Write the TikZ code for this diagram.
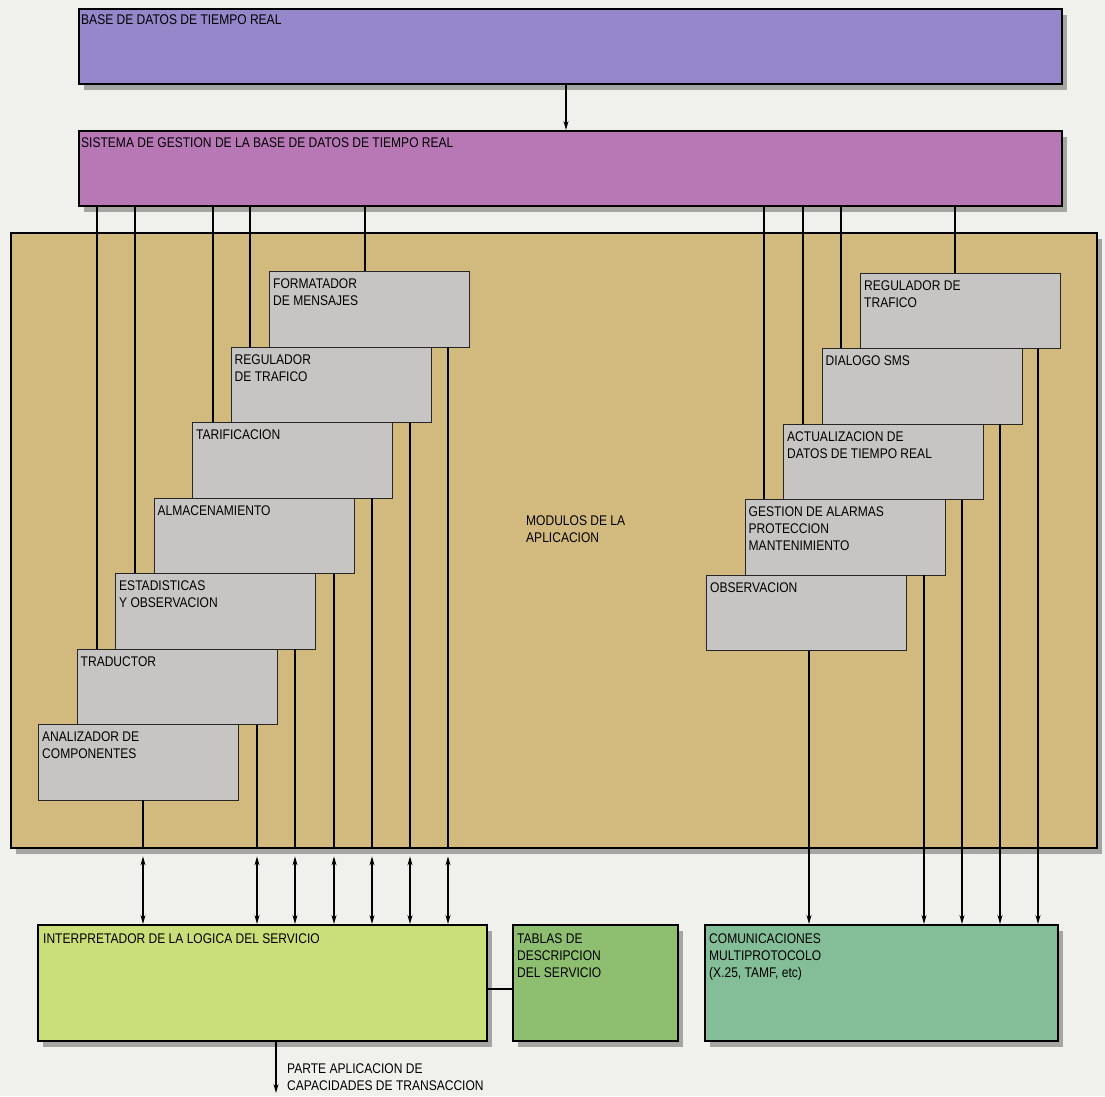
\documentclass[tikz,border=0pt]{standalone}
\usepackage{fontspec}
\setmainfont{Liberation Sans}[FakeStretch=0.86]
\usetikzlibrary{arrows.meta,shadows}

\definecolor{paper}{RGB}{240,240,237}
\definecolor{dbfill}{RGB}{150,134,202}
\definecolor{sgfill}{RGB}{184,120,182}
\definecolor{modfill}{RGB}{210,186,126}
\definecolor{boxgray}{RGB}{198,197,195}
\definecolor{intfill}{RGB}{202,222,122}
\definecolor{tabfill}{RGB}{142,190,112}
\definecolor{comfill}{RGB}{132,190,152}
\definecolor{shade}{RGB}{165,165,162}

\tikzset{
  bigbox/.style={draw=black, line width=2.4pt, inner sep=0pt, anchor=north west,
    drop shadow={shadow xshift=5pt, shadow yshift=-6pt, fill=shade, opacity=1}},
  modbox/.style={draw=black!85, line width=0.9pt, fill=boxgray, inner sep=0pt,
    anchor=north west, minimum width=200pt, minimum height=75.5pt},
  txt/.style={font=\fontsize{14}{17}\selectfont, align=left, inner sep=0pt, anchor=north west},
  ln/.style={line width=1.2pt, black},
  tip/.tip={Stealth[length=9pt,width=5pt]},
  arr/.style={ln, -tip},
  darr/.style={ln, tip-tip}
}

\begin{document}
\begin{tikzpicture}[x=1pt,y=-1pt]
\useasboundingbox (0,0) rectangle (1105,1096);
\fill[paper] (0,0) rectangle (1105,1096);

% database layers
\node[bigbox, fill=dbfill, minimum width=983pt, minimum height=75pt] (db) at (78,8) {};
\node[txt] (dbt) at ([shift={(3pt,-7pt)}]db.north west) {BASE DE DATOS DE TIEMPO REAL};
\node[bigbox, fill=sgfill, minimum width=983pt, minimum height=75pt] (sgbd) at (78,130) {};
\node[txt] (sgbdt) at ([shift={(3pt,-8pt)}]sgbd.north west) {SISTEMA DE GESTION DE LA BASE DE DATOS DE TIEMPO REAL};

% application modules frame
\node[bigbox, fill=modfill, minimum width=1086pt, minimum height=615pt] (mod) at (10,232) {};
\node[txt] (modt) at (526,516) {MODULOS DE LA\\APLICACION};

% lower blocks
\node[bigbox, fill=intfill, minimum width=449pt, minimum height=116pt] (interp) at (37,924) {};
\node[txt] (interpt) at ([shift={(6pt,-10pt)}]interp.north west) {INTERPRETADOR DE LA LOGICA DEL SERVICIO};
\node[bigbox, fill=tabfill, minimum width=165pt, minimum height=116pt] (tab) at (512,924) {};
\node[txt] (tabt) at ([shift={(5pt,-10pt)}]tab.north west) {TABLAS DE\\DESCRIPCION\\DEL SERVICIO};
\node[bigbox, fill=comfill, minimum width=353pt, minimum height=116pt] (comm) at (704,924) {};
\node[txt] (commt) at ([shift={(5pt,-10pt)}]comm.north west) {COMUNICACIONES\\MULTIPROTOCOLO\\(X.25, TAMF, etc)};

% left staircase of modules
\node[modbox] (fm)  at (269,271)   {};
\node[modbox] (rt1) at (230.5,346.5) {};
\node[modbox] (tar) at (192,422)   {};
\node[modbox] (alm) at (153.5,497.5) {};
\node[modbox] (est) at (115,573)   {};
\node[modbox] (tra) at (76.5,648.5) {};
\node[modbox] (ana) at (38,724)    {};
\node[txt] (fmt)  at ([shift={(4pt,-8pt)}]fm.north west)  {FORMATADOR\\DE MENSAJES};
\node[txt] (rt1t) at ([shift={(4pt,-8pt)}]rt1.north west) {REGULADOR\\DE TRAFICO};
\node[txt] (tart) at ([shift={(4pt,-8pt)}]tar.north west) {TARIFICACION};
\node[txt] (almt) at ([shift={(4pt,-8pt)}]alm.north west) {ALMACENAMIENTO};
\node[txt] (estt) at ([shift={(4pt,-8pt)}]est.north west) {ESTADISTICAS\\Y OBSERVACION};
\node[txt] (trat) at ([shift={(4pt,-8pt)}]tra.north west) {TRADUCTOR};
\node[txt] (anat) at ([shift={(4pt,-8pt)}]ana.north west) {ANALIZADOR DE\\COMPONENTES};

% right staircase of modules
\node[modbox] (rt2) at (860,272.5)   {};
\node[modbox] (sms) at (821.5,348)   {};
\node[modbox] (act) at (783,423.5)   {};
\node[modbox] (gal) at (744.5,499)   {};
\node[modbox] (obs) at (706,574.5)   {};
\node[txt] (rt2t) at ([shift={(4pt,-8pt)}]rt2.north west) {REGULADOR DE\\TRAFICO};
\node[txt] (smst) at ([shift={(4pt,-8pt)}]sms.north west) {DIALOGO SMS};
\node[txt] (actt) at ([shift={(4pt,-8pt)}]act.north west) {ACTUALIZACION DE\\DATOS DE TIEMPO REAL};
\node[txt] (galt) at ([shift={(4pt,-8pt)}]gal.north west) {GESTION DE ALARMAS\\PROTECCION\\MANTENIMIENTO};
\node[txt] (obst) at ([shift={(4pt,-8pt)}]obs.north west) {OBSERVACION};

% database to management system
\coordinate (xdb) at (566,0);
\draw[arr] (db.south -| xdb) -- (sgbd.north -| xdb);

% management system feeding the modules
\foreach \m/\dx in {tra/20.5, est/20, tar/21, rt1/19.5, fm/96, gal/19.5, act/20, sms/19.5, rt2/95} {
  \coordinate (u\m) at ([xshift=\dx pt]\m.north west);
  \draw[ln] (sgbd.south -| u\m) -- (u\m);
}

% modules to the service logic interpreter (two-way)
\coordinate (mb) at ([yshift=-7pt]mod.south);
\foreach \m/\dx in {ana/105, tra/180.5, est/180, alm/180.5, tar/180, rt1/179.5, fm/179} {
  \coordinate (d\m) at ([xshift=\dx pt]\m.south west);
  \draw[ln] (d\m) -- (d\m |- mod.south);
  \draw[darr] (d\m |- mb) -- (d\m |- interp.north);
}

% modules to multiprotocol communications
\foreach \m/\dx in {obs/103, gal/179.5, act/179, sms/178.5, rt2/178} {
  \coordinate (d\m) at ([xshift=\dx pt]\m.south west);
  \draw[arr] (d\m) -- (d\m |- comm.north);
}

% interpreter to service description tables
\coordinate (yt) at (0,989);
\draw[ln] (interp.east |- yt) -- (tab.west |- yt);

% TCAP output
\coordinate (pout) at ([xshift=239pt]interp.south west);
\coordinate (pend) at (276,1093);
\draw[arr] (pout) -- (pend);
\node[txt] (poutt) at (287,1064) {PARTE APLICACION DE\\CAPACIDADES DE TRANSACCION};
\end{tikzpicture}
\end{document}
